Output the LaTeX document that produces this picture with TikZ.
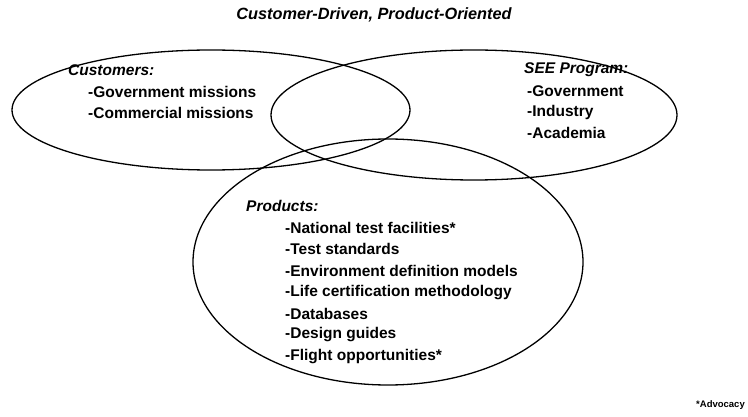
\documentclass[tikz,border=0pt]{standalone}
\usepackage{fontspec}
\setmainfont{Liberation Sans}
\usepackage{tikz}

\begin{document}
\begin{tikzpicture}[x=1pt, y=-1pt,
    circ/.style={line width=1.3pt, black},
    head/.style={anchor=west, inner sep=0pt, font=\fontsize{15.5}{18}\selectfont\bfseries\itshape},
    item/.style={anchor=west, inner sep=0pt, font=\fontsize{15.5}{18}\selectfont\bfseries}]
  \useasboundingbox (0,0) rectangle (748,417);

  % Title
  \node[inner sep=0pt, font=\fontsize{16.3}{18}\selectfont\bfseries\itshape] (title) at (374,15) {Customer-Driven, Product-Oriented};

  % Draw the three overlapping ellipses
  \draw[circ] (211,110) ellipse [x radius=199, y radius=60];
  \draw[circ] (474,115) ellipse [x radius=203, y radius=65];
  \draw[circ] (388,262) ellipse [x radius=195, y radius=123];

  % Customers
  \node[head] (cust) at (68,70) {Customers:};
  \node[item] (cust1) at (88,92) {-Government missions};
  \node[item] (cust2) at (88,113) {-Commercial missions};

  % SEE program
  \node[head] (see) at (524,70) {SEE Program:};
  \node[item] (see1) at (527,91) {-Government};
  \node[item] (see2) at (527,112) {-Industry};
  \node[item] (see3) at (527,133) {-Academia};

  % Products
  \node[head] (prod) at (246,206) {Products:};
  \foreach \t [count=\i] in {-National test facilities*, -Test standards,
      -Environment definition models, -Life certification methodology,
      -Databases, -Design guides, -Flight opportunities*}
    \node[item] (prod\i) at (285,{228+21.4*(\i-1)}) {\t};

  % Footnote
  \node[anchor=east, inner sep=0pt, font=\fontsize{9.5}{11}\selectfont\bfseries] (adv) at (745,405) {*Advocacy};
\end{tikzpicture}
\end{document}
